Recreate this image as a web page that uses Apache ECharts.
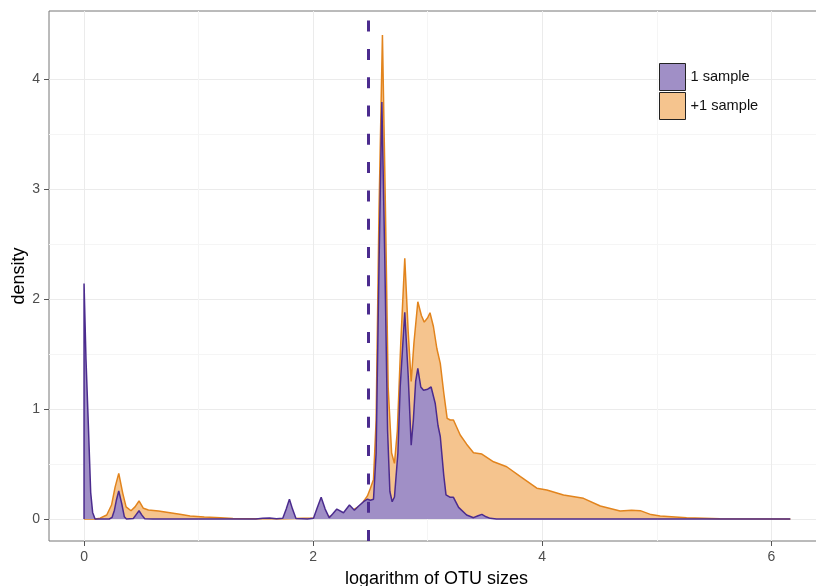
<!DOCTYPE html>
<html>
<head>
<meta charset="utf-8">
<title>OTU size density</title>
<script src="https://cdn.jsdelivr.net/npm/echarts@6/dist/echarts.min.js"></script>
<style>
  html, body { margin: 0; padding: 0; background: #fff; }
  #chart { width: 816px; height: 586px; }
</style>
</head>
<body>
<div id="chart"></div>
<script>
// density curves, [log10 size, density]
const oneSample = [
  [0, 0], [0, 2.14], [0.017, 1.45], [0.038, 0.84], [0.058, 0.24], [0.075, 0.06], [0.096, 0],
  [0.22, 0], [0.245, 0.015], [0.265, 0.08], [0.282, 0.17], [0.303, 0.255], [0.329, 0.14],
  [0.352, 0.02], [0.37, 0], [0.43, 0.005], [0.455, 0.04], [0.48, 0.075], [0.505, 0.035],
  [0.53, 0.003], [0.6, 0], [1.5, 0], [1.56, 0.006], [1.62, 0.01], [1.68, 0.003], [1.735, 0.006],
  [1.765, 0.09], [1.793, 0.18], [1.82, 0.09], [1.85, 0.005], [1.95, 0], [2.003, 0.006],
  [2.035, 0.1], [2.07, 0.197], [2.105, 0.09], [2.14, 0.012], [2.17, 0.045], [2.207, 0.09],
  [2.265, 0.057], [2.317, 0.127], [2.36, 0.08], [2.40, 0.12], [2.44, 0.157], [2.474, 0.18],
  [2.50, 0.17], [2.527, 0.18], [2.55, 0.6], [2.575, 2.3], [2.60, 3.79], [2.625, 2.4],
  [2.65, 0.8], [2.67, 0.25], [2.69, 0.157], [2.71, 0.2], [2.74, 0.6], [2.76, 1.2],
  [2.80, 1.88], [2.83, 1.3], [2.856, 0.67], [2.875, 0.9], [2.895, 1.25], [2.914, 1.37],
  [2.94, 1.2], [2.964, 1.17], [3.0, 1.18], [3.03, 1.2], [3.066, 1.05], [3.09, 0.85],
  [3.11, 0.75], [3.14, 0.4], [3.16, 0.22], [3.197, 0.197], [3.225, 0.197], [3.27, 0.106],
  [3.34, 0.036], [3.40, 0.012], [3.44, 0.03], [3.473, 0.042], [3.51, 0.02], [3.546, 0.006],
  [3.6, 0], [6.166, 0]
];

const plusOneSample = [
  [0, 0], [0.1, 0], [0.14, 0.008], [0.198, 0.036], [0.24, 0.127], [0.271, 0.29], [0.303, 0.415],
  [0.338, 0.233], [0.367, 0.11], [0.41, 0.075], [0.445, 0.11], [0.48, 0.164], [0.518, 0.097],
  [0.562, 0.082], [0.65, 0.072], [0.75, 0.057], [0.85, 0.04], [0.926, 0.027], [1.05, 0.018],
  [1.19, 0.012], [1.3, 0.005], [1.5, 0.002], [1.75, 0.002], [2.0, 0.01], [2.2, 0.03],
  [2.3, 0.06], [2.36, 0.09], [2.41, 0.12], [2.44, 0.16], [2.474, 0.21], [2.50, 0.28],
  [2.527, 0.36], [2.55, 0.9], [2.575, 2.8], [2.605, 4.40], [2.63, 2.9], [2.655, 1.2],
  [2.685, 0.6], [2.71, 0.506], [2.735, 0.8], [2.765, 1.6], [2.80, 2.37], [2.83, 1.7],
  [2.856, 1.25], [2.88, 1.6], [2.914, 1.975], [2.945, 1.85], [2.97, 1.79], [3.0, 1.83],
  [3.02, 1.875], [3.05, 1.75], [3.08, 1.55], [3.11, 1.415], [3.14, 1.15], [3.17, 0.915],
  [3.197, 0.9], [3.225, 0.9], [3.284, 0.764], [3.34, 0.68], [3.40, 0.603], [3.473, 0.59],
  [3.575, 0.52], [3.69, 0.475], [3.81, 0.385], [3.953, 0.28], [4.04, 0.264], [4.186, 0.218],
  [4.36, 0.188], [4.507, 0.118], [4.68, 0.073], [4.78, 0.08], [4.856, 0.076], [4.95, 0.04],
  [5.03, 0.027], [5.26, 0.012], [5.55, 0.003], [6.166, 0]
];

const seriesNames = ["1 sample", "+1 sample"];
const xTicks = [0, 2, 4, 6];
const xMinorTicks = [1, 3, 5];
const yTicks = [0, 1, 2, 3, 4];
const yMinorTicks = [0.5, 1.5, 2.5, 3.5];
const cutoff = 2.477; // log10(300)

const purpleLine = "#4b2b8e", purpleFill = "#a08fc6";
const orangeLine = "#e2841d", orangeFill = "#f5c48e";
const font = "Liberation Sans";

const chart = echarts.init(document.getElementById("chart"));

const hiddenAxisBits = {
  axisLine: { show: false, onZero: false },
  axisLabel: { show: false }
};

const option = {
  backgroundColor: "#fff",
  animation: false,
  grid: {
    left: 49, top: 11, width: 775, height: 530,
    outerBoundsMode: "none", containLabel: false,
    show: true, borderColor: "#777", borderWidth: 1, backgroundColor: "transparent"
  },
  legend: {
    orient: "vertical",
    left: 659, top: 63, padding: 0,
    itemWidth: 26, itemHeight: 27, itemGap: 1,
    icon: "rect",
    textStyle: { fontFamily: font, fontSize: 14.6, color: "#111" },
    data: [
      { name: seriesNames[0], itemStyle: { color: purpleFill, borderColor: "#222", borderWidth: 1 } },
      { name: seriesNames[1], itemStyle: { color: orangeFill, borderColor: "#222", borderWidth: 1 } }
    ]
  },
  xAxis: [
    {
      type: "value", min: -0.306, max: 6.46, position: "bottom",
      name: "logarithm of OTU sizes", nameLocation: "middle", nameGap: 29, nameMoveOverlap: false,
      nameTextStyle: { fontFamily: font, fontSize: 18, color: "#000" },
      axisLine: { show: false, onZero: false },
      axisTick: { show: true, length: 5, customValues: xTicks, lineStyle: { color: "#555" } },
      axisLabel: { customValues: xTicks, margin: 9, fontFamily: font, fontSize: 14, color: "#4d4d4d" },
      splitLine: { show: true, lineStyle: { color: "#ebebeb", width: 1 } }
    },
    Object.assign({
      type: "value", min: -0.306, max: 6.46, position: "bottom",
      splitLine: { show: true, lineStyle: { color: "#f5f5f5", width: 1 } },
      axisTick: { show: false, customValues: xMinorTicks }
    }, hiddenAxisBits)
  ],
  yAxis: [
    {
      type: "value", min: -0.2, max: 4.618, position: "left",
      name: "density", nameLocation: "middle", nameGap: 21, nameMoveOverlap: false,
      nameTextStyle: { fontFamily: font, fontSize: 18, color: "#000" },
      axisLine: { show: false, onZero: false },
      axisTick: { show: true, length: 5, customValues: yTicks, lineStyle: { color: "#555" } },
      axisLabel: { customValues: yTicks, margin: 9, fontFamily: font, fontSize: 14, color: "#4d4d4d" },
      splitLine: { show: true, lineStyle: { color: "#ebebeb", width: 1 } }
    },
    Object.assign({
      type: "value", min: -0.2, max: 4.618, position: "left",
      splitLine: { show: true, lineStyle: { color: "#f5f5f5", width: 1 } },
      axisTick: { show: false, customValues: yMinorTicks }
    }, hiddenAxisBits)
  ],
  series: [
    {
      name: seriesNames[1],
      type: "line",
      z: 2,
      data: plusOneSample,
      showSymbol: false,
      smooth: false,
      color: orangeFill,
      lineStyle: { color: orangeLine, width: 1.5 },
      areaStyle: { color: orangeFill, opacity: 1 }
    },
    {
      name: seriesNames[0],
      type: "line",
      z: 3,
      data: oneSample,
      showSymbol: false,
      smooth: false,
      color: purpleFill,
      lineStyle: { color: purpleLine, width: 1.5 },
      areaStyle: { color: purpleFill, opacity: 1 },
      markLine: {
        silent: true,
        symbol: "none",
        label: { show: false },
        lineStyle: { color: purpleLine, width: 3, type: [11, 17.3] },
        data: [{ xAxis: cutoff }]
      }
    }
  ]
};

chart.setOption(option);
</script>
</body>
</html>
